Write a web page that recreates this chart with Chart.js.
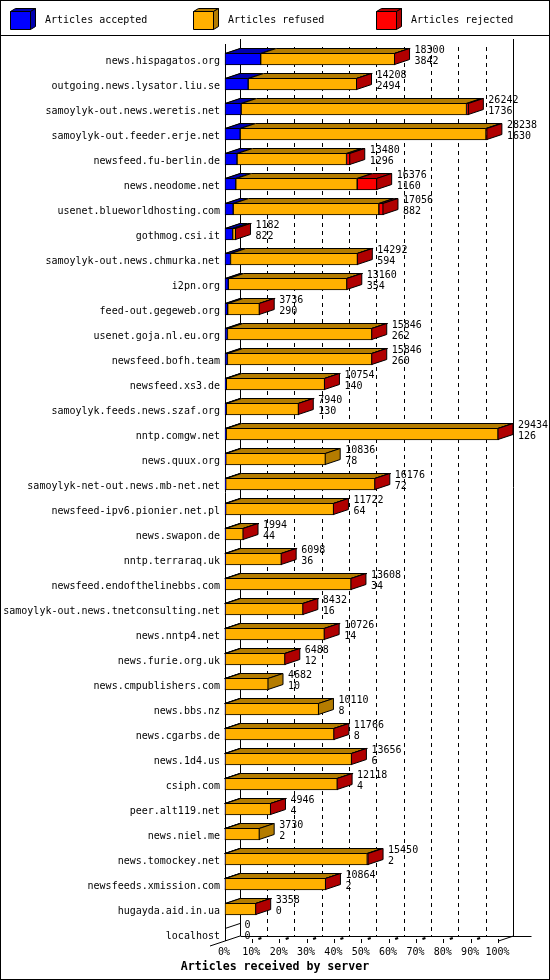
<!DOCTYPE html>
<html><head><meta charset="utf-8">
<script src="https://cdn.jsdelivr.net/npm/chart.js@4.4.1/dist/chart.umd.min.js"></script>
<style>html,body{margin:0;padding:0;background:#fff}canvas{display:block}</style>
</head><body>
<canvas id="c" width="550" height="980"></canvas>
<script>
const servers = ['news.hispagatos.org','outgoing.news.lysator.liu.se','samoylyk-out.news.weretis.net','samoylyk-out.feeder.erje.net','newsfeed.fu-berlin.de','news.neodome.net','usenet.blueworldhosting.com','gothmog.csi.it','samoylyk-out.news.chmurka.net','i2pn.org','feed-out.gegeweb.org','usenet.goja.nl.eu.org','newsfeed.bofh.team','newsfeed.xs3.de','samoylyk.feeds.news.szaf.org','nntp.comgw.net','news.quux.org','samoylyk-net-out.news.mb-net.net','newsfeed-ipv6.pionier.net.pl','news.swapon.de','nntp.terraraq.uk','newsfeed.endofthelinebbs.com','samoylyk-out.news.tnetconsulting.net','news.nntp4.net','news.furie.org.uk','news.cmpublishers.com','news.bbs.nz','news.cgarbs.de','news.1d4.us','csiph.com','peer.alt119.net','news.niel.me','news.tomockey.net','newsfeeds.xmission.com','hugayda.aid.in.ua','localhost'];
const offered  = [18300,14208,26242,28238,13480,16376,17056,1182,14292,13160,3736,15846,15846,10754,7940,29434,10836,16176,11722,1994,6098,13608,8432,10726,6488,4682,10110,11766,13656,12118,4946,3730,15450,10864,3358,0];
const accepted = [3842,2494,1736,1630,1296,1160,882,822,594,354,290,262,260,140,130,126,78,72,64,44,36,34,16,14,12,10,8,8,6,4,4,2,2,2,0,0];
const refused  = [14418,11684,24256,26458,11784,13066,15674,340,13678,12786,3436,15564,15566,10604,7800,29278,10758,16094,11648,1944,6056,13564,8412,10708,6472,4672,10102,11754,13646,12112,4940,3728,15308,10858,3354,0];
const rejected = [40,30,250,150,400,2150,500,20,20,20,10,20,20,10,10,30,0,10,10,6,6,10,4,4,4,0,0,4,4,2,2,0,140,4,4,0];
const seriesNames = ['Articles accepted','Articles refused','Articles rejected'];
const tickLabels = ['0%','10%','20%','30%','40%','50%','60%','70%','80%','90%','100%'];
const axisTitle = 'Articles received by server';

const FRONT = ['#0000ff','#ffb000','#ff0000'];
const DARK  = ['#0000b0','#b47c00','#b00000'];
const DX = 15, DY = 5;
const FONT = '"DejaVu Sans Mono", monospace';

function hp(v){ return Math.floor(v) + 0.5; }
function line(ctx, x1, y1, x2, y2){ ctx.beginPath(); ctx.moveTo(x1,y1); ctx.lineTo(x2,y2); ctx.stroke(); }
function poly(ctx, pts, fill){
  ctx.beginPath(); ctx.moveTo(pts[0][0], pts[0][1]);
  for (let k = 1; k < pts.length; k++) ctx.lineTo(pts[k][0], pts[k][1]);
  ctx.closePath(); ctx.fillStyle = fill; ctx.fill();
  ctx.strokeStyle = '#000'; ctx.lineWidth = 1; ctx.stroke();
}

const deco = {
  id: 'deco',
  beforeDraw(chart){
    const ctx = chart.ctx, W = chart.width, H = chart.height;
    ctx.save();
    ctx.fillStyle = '#fff'; ctx.fillRect(0,0,W,H);
    ctx.strokeStyle = '#000'; ctx.lineWidth = 1; ctx.setLineDash([]);
    ctx.strokeRect(0.5, 0.5, W-1, H-1);
    line(ctx, 0, 35.5, W, 35.5);
    // legend
    chart.data.datasets.forEach((ds, k) => {
      const bx = 10.5 + 183*k, by = 11.5, bw = 20, bh = 18, d = 5, e = 3;
      poly(ctx, [[bx,by],[bx+bw,by],[bx+bw,by+bh],[bx,by+bh]], FRONT[k]);
      poly(ctx, [[bx,by],[bx+d,by-e],[bx+bw+d,by-e],[bx+bw,by]], DARK[k]);
      poly(ctx, [[bx+bw,by],[bx+bw+d,by-e],[bx+bw+d,by+bh-e],[bx+bw,by+bh]], DARK[k]);
      ctx.fillStyle = '#000'; ctx.font = '10px ' + FONT;
      ctx.textAlign = 'left'; ctx.textBaseline = 'middle';
      ctx.fillText(ds.label, bx + 34.5, 20);
    });
    ctx.restore();
  },
  beforeDatasetsDraw(chart){
    const ctx = chart.ctx, xs = chart.scales.x, ys = chart.scales.y;
    const L = xs.getPixelForValue(xs.min), R = xs.getPixelForValue(xs.max);
    const cLast = ys.getPixelForValue(servers.length - 1);
    const fb = cLast + 7, bb = fb - DY;
    const topB = 39;
    ctx.save();
    ctx.strokeStyle = '#000'; ctx.lineWidth = 1;
    // dashed back grid
    ctx.setLineDash([4,4]);
    xs.ticks.forEach((t, k) => {
      if (k === 0 || k === xs.ticks.length - 1) return;
      const x = hp(xs.getPixelForValue(t.value) + DX);
      ctx.lineDashOffset = 0;
      line(ctx, x, topB + 8, x, bb);
    });
    ctx.setLineDash([]);
    // walls
    line(ctx, hp(L), topB + 5, hp(L), fb);
    line(ctx, hp(L + DX), topB, hp(L + DX), bb);
    line(ctx, hp(R + DX), topB, hp(R + DX), bb);
    line(ctx, hp(L + DX), hp(bb), R + DX + 18, hp(bb));
    line(ctx, L - DX, fb + DY, L + DX, fb - DY);
    line(ctx, R, fb, R + DX, bb);
    // category lines on left wall
    servers.forEach((s, i) => {
      const c = ys.getPixelForValue(i);
      line(ctx, L, c - 6 + 0.5, L + DX, c - 6 - DY + 0.5);
    });
    // floor ticks
    xs.ticks.forEach((t, k) => {
      const x = xs.getPixelForValue(t.value);
      if (k > 0) line(ctx, hp(x), fb - 2, hp(x), fb + 2);
      if (k > 0 && k < xs.ticks.length - 1) {
        ctx.lineWidth = 2;
        line(ctx, x + 6, fb - 2, x + 9, fb - 3);
        ctx.lineWidth = 1;
      }
    });
    ctx.restore();
  },
  afterDatasetsDraw(chart){
    const ctx = chart.ctx, xs = chart.scales.x, ys = chart.scales.y;
    const metas = chart.data.datasets.map((d, k) => chart.getDatasetMeta(k));
    ctx.save();
    ctx.setLineDash([]);
    servers.forEach((s, i) => {
      let last = -1, lastEl = null;
      metas.forEach((m, k) => {
        const v = chart.data.datasets[k].data[i];
        if (!v) return;
        const el = m.data[i];
        const p = el.getProps(['x','y','base','height'], true);
        const x0 = Math.min(p.base, p.x) + 0.5, x1 = Math.max(p.base, p.x) - 0.5;
        const top = p.y - p.height/2 + 0.5;
        poly(ctx, [[x0, top],[x0 + DX, top - DY],[x1 + DX, top - DY],[x1, top]], DARK[k]);
        last = k; lastEl = p;
      });
      if (last >= 0) {
        const p = lastEl;
        const x1 = Math.max(p.base, p.x) - 0.5;
        const top = p.y - p.height/2 + 0.5, bot = p.y + p.height/2 - 0.5;
        poly(ctx, [[x1, top],[x1 + DX, top - DY],[x1 + DX, bot - DY],[x1, bot]], DARK[last]);
      }
      // value labels
      const c = ys.getPixelForValue(i);
      const xe = xs.getPixelForValue(offered[i]) + DX + 4.5;
      ctx.fillStyle = '#000'; ctx.font = '10px ' + FONT;
      ctx.textAlign = 'left'; ctx.textBaseline = 'middle';
      ctx.fillText(String(offered[i]), xe, c - 9);
      ctx.fillText(String(accepted[i]), xe, c + 2);
    });
    // axis title
    ctx.font = 'bold 11.6px ' + FONT;
    ctx.textAlign = 'center'; ctx.textBaseline = 'middle';
    ctx.fillText(axisTitle, chart.width/2, 967);
    ctx.restore();
  }
};

const mk = (k, data) => ({
  label: seriesNames[k], data: data, backgroundColor: FRONT[k],
  borderColor: '#000', borderWidth: 1, borderSkipped: false,
  barThickness: 12, clip: false
});

new Chart(document.getElementById('c'), {
  type: 'bar',
  data: { labels: servers, datasets: [mk(0, accepted), mk(1, refused), mk(2, rejected)] },
  options: {
    indexAxis: 'y', responsive: false, animation: false, devicePixelRatio: 1,
    layout: { padding: { top: 59, right: 51.5, left: 0, bottom: 0 } },
    plugins: { legend: { display: false }, tooltip: { enabled: false }, title: { display: false } },
    scales: {
      x: {
        stacked: true, min: 0, max: Math.max(...offered),
        grid: { display: false, drawTicks: false }, border: { display: false },
        afterBuildTicks: s => { s.ticks = tickLabels.map((t, k) => ({ value: s.max * k / (tickLabels.length - 1) })); },
        ticks: { autoSkip: false, maxRotation: 0, padding: 12, labelOffset: -1,
                 callback: (v, i) => tickLabels[i], font: { family: FONT, size: 10 }, color: '#000' },
        afterFit: s => { s.height = 46; }
      },
      y: {
        stacked: true, offset: false,
        grid: { display: false, drawTicks: false }, border: { display: false },
        ticks: { autoSkip: false, padding: 5, labelOffset: 2, font: { family: FONT, size: 10 }, color: '#000' },
        afterFit: s => { s.width = 225; }
      }
    }
  },
  plugins: [deco]
});
</script>
</body></html>
